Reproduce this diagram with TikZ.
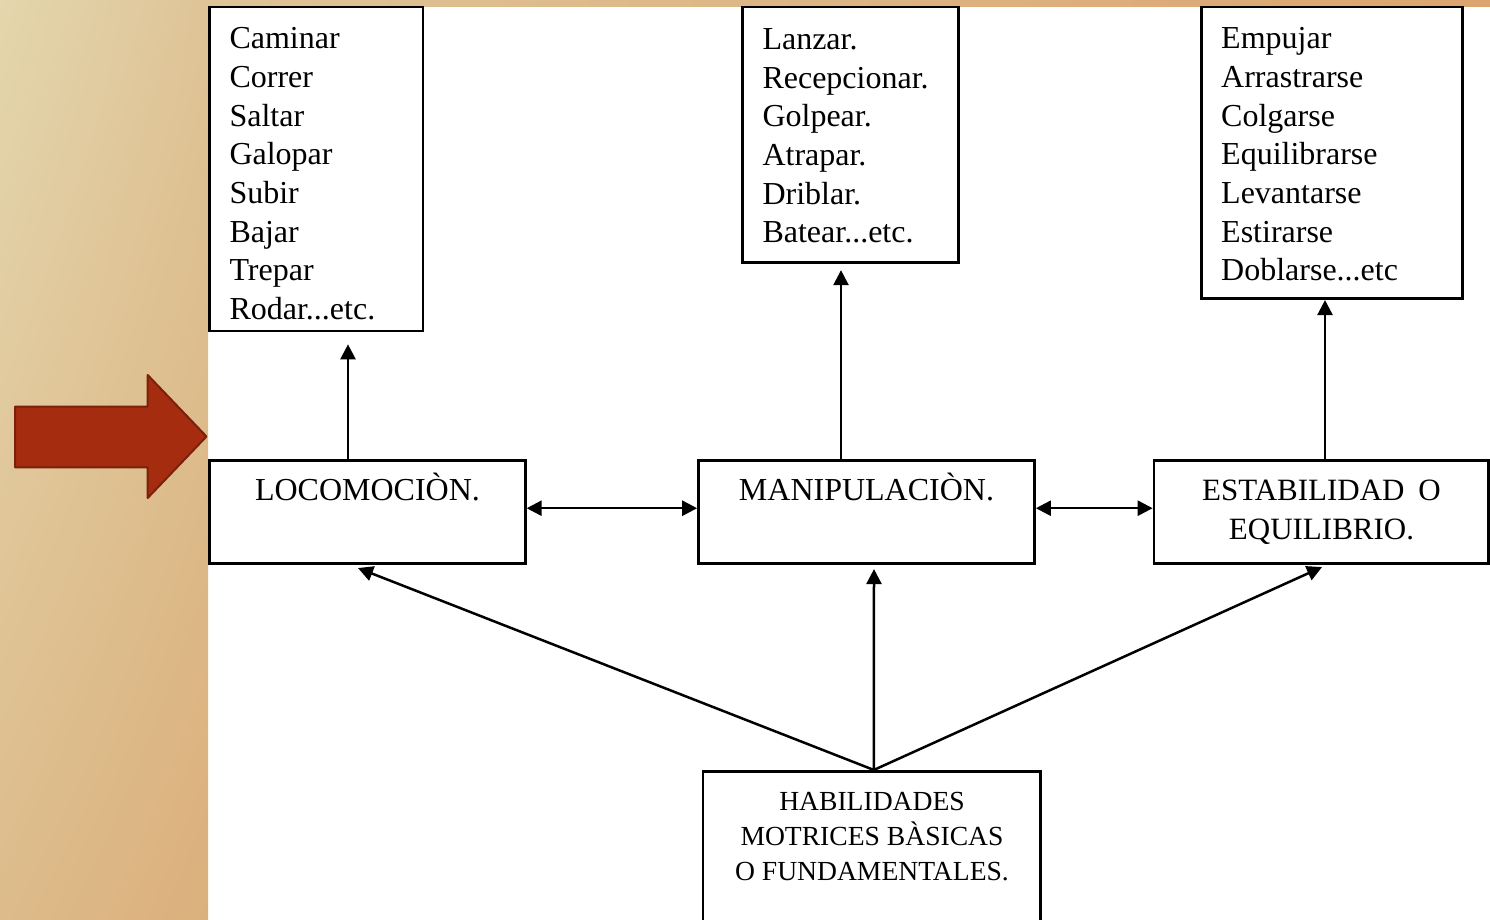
\documentclass[tikz,border=0pt]{standalone}
\usepackage{fontspec}
\setmainfont{Liberation Serif}
\usetikzlibrary{arrows.meta,shadings}
\definecolor{redfill}{HTML}{A52C0E}
\definecolor{redline}{HTML}{7A200C}
\definecolor{bgA}{HTML}{E4D6AD}
\definecolor{bgB}{HTML}{DEC497}
\definecolor{bgC}{HTML}{DDBB8B}
\definecolor{bgD}{HTML}{DBB07C}
\definecolor{bgE}{HTML}{DCA46E}
\begin{document}
\begin{tikzpicture}[x=1pt,y=-1pt,
  box/.style={draw=black, line width=2.7pt, inner sep=0pt, fill=white},
  conn/.style={line width=2.5pt, -{Triangle[length=15pt,width=15pt]}},
  dconn/.style={line width=2.5pt, {Triangle[length=15pt,width=15pt]}-{Triangle[length=15pt,width=15pt]}},
  listtxt/.style={anchor=north west, inner sep=0pt, align=left, font=\fontsize{32}{38.7}\selectfont},
  captxt/.style={inner sep=0pt, align=center, font=\fontsize{32}{38.7}\selectfont}]
\useasboundingbox (0,0) rectangle (1490,919);
% background
\fill[white] (0,0) rectangle (1490,919);
\shade[upper left=bgA, upper right=bgB, lower left=bgC, lower right=bgD] (0,0) rectangle (208,919);
\shade[left color=bgB, right color=bgE] (208,0) rectangle (1490,6);
% big red arrow
\draw[fill=redfill, draw=redline, line width=2pt, line join=round]
  (15,406.7) -- (147.7,406.7) -- (147.7,375) -- (206.5,436.5) -- (147.7,498) -- (147.7,467.3) -- (15,467.3) -- cycle;
% boxes
\node[box, minimum width=213.3pt, minimum height=324pt] (B1) at (316.35,169) {};
\node[box, minimum width=216pt, minimum height=255.5pt] (B2) at (850.8,134.75) {};
\node[box, minimum width=261pt, minimum height=291.7pt] (B3) at (1331.8,152.85) {};
\node[box, minimum width=315.6pt, minimum height=103pt] (LOC) at (367.5,512.2) {};
\node[box, minimum width=336pt, minimum height=103pt] (MAN) at (866.5,512.2) {};
\node[box, minimum width=334.8pt, minimum height=103pt] (EST) at (1321.4,512.2) {};
\node[box, minimum width=337.7pt, minimum height=153.7pt] (HAB) at (871.85,848.15) {};
% texts
\node[listtxt] (t1) at (229.3,27.4) {Caminar\\Correr\\Saltar\\Galopar\\Subir\\Bajar\\Trepar\\Rodar...etc.};
\node[listtxt] (t2) at (762.3,28.3) {Lanzar.\\Recepcionar.\\Golpear.\\Atrapar.\\Driblar.\\Batear...etc.};
\node[listtxt] (t3) at (1221,27.4) {Empujar\\Arrastrarse\\Colgarse\\Equilibrarse\\Levantarse\\Estirarse\\Doblarse...etc};
\node[captxt, anchor=base] (tl) at (367.5,500) {LOCOMOCIÒN.};
\node[captxt, anchor=base] (tm) at (866.5,500) {MANIPULACIÒN.};
\node[captxt, anchor=north, font=\fontsize{31}{39}\selectfont] (te) at (1321.5,479.7) {ESTABILIDAD\hspace{0.2em} O\\EQUILIBRIO.};
\node[captxt, anchor=north, font=\fontsize{27.6}{35}\selectfont] (th) at (872,791.6) {HABILIDADES\\MOTRICES BÀSICAS\\O FUNDAMENTALES.};
% connectors
\draw[conn] ([xshift=-19.5pt]LOC.north) -- ([xshift=31.65pt,yshift=-12pt]B1.south);
\draw[conn] ([xshift=-25.5pt]MAN.north) -- ([xshift=-9.8pt,yshift=-6.3pt]B2.south);
\draw[conn] ([xshift=3.6pt]EST.north) -- ([xshift=-6.8pt]B3.south);
\draw[dconn] ([yshift=4pt]LOC.east) -- ([yshift=4pt]MAN.west);
\draw[dconn] ([yshift=4pt]MAN.east) -- ([yshift=4pt]EST.west);
\coordinate (hs) at ([xshift=2pt]HAB.north);
\draw[conn] (hs) -- ([xshift=-9.5pt,yshift=-3pt]LOC.south);
\draw[conn] (hs) -- ([xshift=7.5pt,yshift=-4pt]MAN.south);
\draw[conn] (hs) -- ([xshift=0.6pt,yshift=-2pt]EST.south);
\end{tikzpicture}
\end{document}
